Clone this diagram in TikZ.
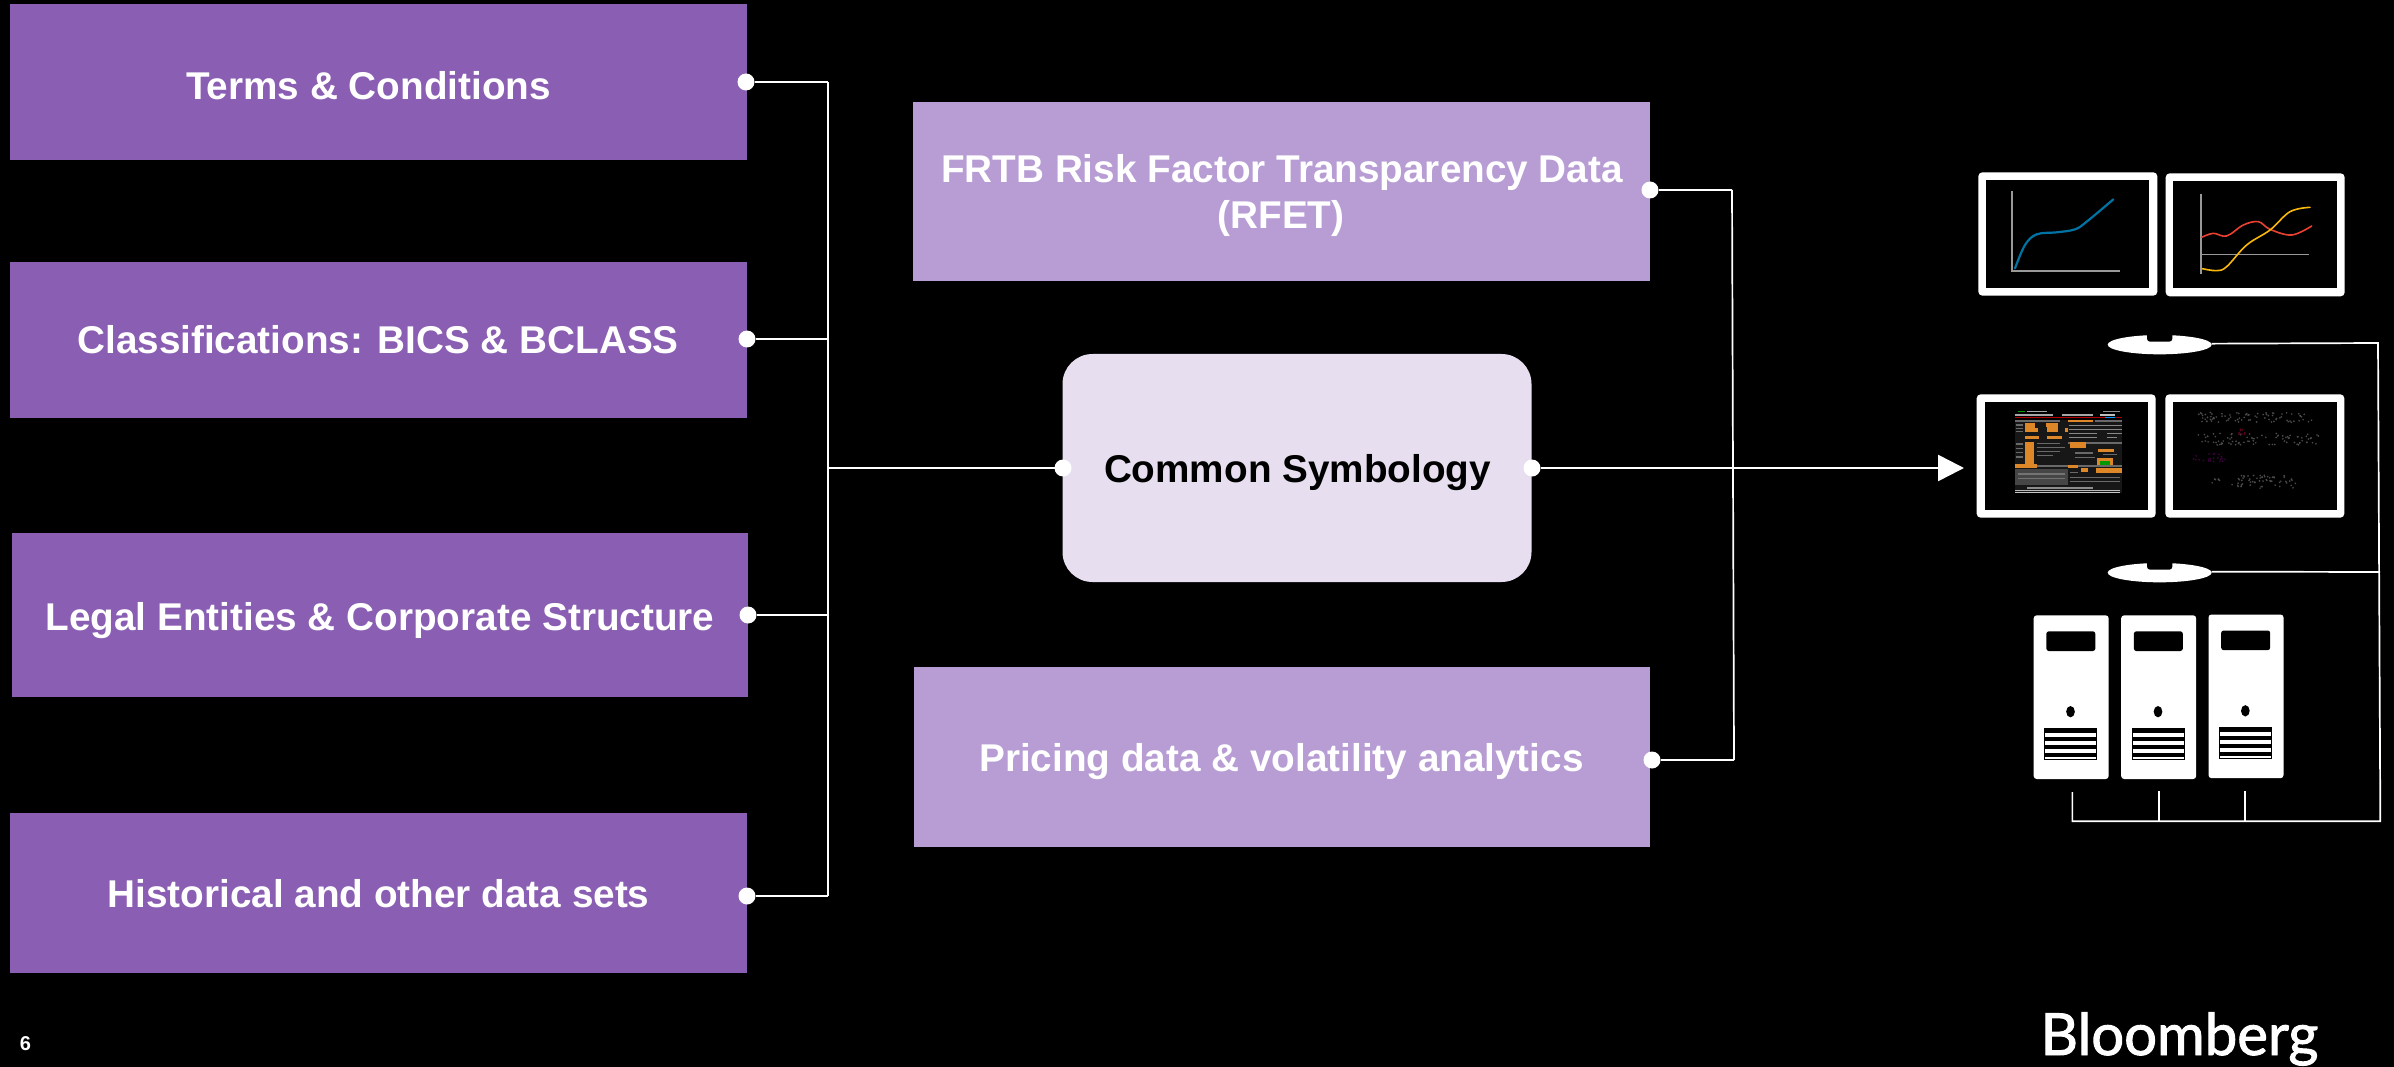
\documentclass[tikz,border=0pt]{standalone}
\usepackage{fontspec}
\setmainfont{Liberation Sans}
\newfontfamily\logofont[FakeBold=1.6]{Lato}
\usetikzlibrary{arrows.meta}
\definecolor{boxdark}{RGB}{138,94,178}
\definecolor{boxlight}{RGB}{183,157,212}
\definecolor{boxpale}{RGB}{231,222,240}
\definecolor{termorange}{RGB}{222,135,40}
\definecolor{termgray}{RGB}{105,105,105}
\definecolor{curveblue}{RGB}{0,115,165}
\definecolor{curvered}{RGB}{235,65,50}
\definecolor{curveyellow}{RGB}{250,185,10}
\tikzset{
  x=1pt,y=-1pt,
  databox/.style={rectangle,inner sep=0pt,outer sep=0pt,draw=none,fill=boxdark,minimum width=737pt,minimum height=156pt},
  feedbox/.style={rectangle,inner sep=0pt,outer sep=0pt,draw=none,fill=boxlight,minimum width=737pt},
  lbl/.style={anchor=base,inner sep=0pt,text=white,font=\fontsize{38.7}{47}\selectfont\bfseries},
  pin/.style={circle,fill=white,draw=none,inner sep=0pt,outer sep=0pt,minimum size=17pt},
  wire/.style={draw=white,line width=2.6pt},
  thinwire/.style={draw=white,line width=1.7pt},
  monitor/.style={fill=white,rounded corners=4pt},
  screen/.style={fill=black},
  axisline/.style={draw=gray!80,line width=1.2pt},
  chartcurve/.style={line width=1.6pt,smooth,line cap=round},
}
\begin{document}
\begin{tikzpicture}
\useasboundingbox (0,0) rectangle (2394,1067);
\fill[black] (0,0) rectangle (2394,1067);

% left data boxes
\node[databox] (terms) at (378.5,82) {};
\node[databox] (class) at (378.5,340) {};
\node[databox,minimum height=164pt,minimum width=736pt] (legal) at (380,615) {};
\node[databox,minimum height=160pt] (hist) at (378.5,893) {};
\node[lbl] (termst) at (368.5,100) {Terms \& Conditions};
\node[lbl] (classt) at (378,354) {Classifications: BICS \& BCLASS};
\node[lbl] (legalt) at (380,630) {Legal Entities \& Corporate Structure};
\node[lbl] (histt) at (378.5,907.5) {Historical and other data sets};

% middle boxes
\node[feedbox,minimum height=179pt] (rfet) at (1281.5,191.5) {};
\node[feedbox,minimum height=180pt,minimum width=736pt] (price) at (1282,757) {};
\node[lbl] (rfett) at (1282,183) {FRTB Risk Factor Transparency Data};
\node[lbl] (rfetb) at (1281,229) {(RFET)};
\node[lbl] (pricet) at (1281.5,771.5) {Pricing data \& volatility analytics};
\node[rectangle,draw=none,fill=boxpale,rounded corners=30pt,minimum width=469pt,minimum height=228pt,inner sep=0pt,outer sep=0pt] (common) at (1297,468) {};
\node[lbl,text=black] (commont) at (1297.5,482) {Common Symbology};

% bus coordinates
\coordinate (j1) at (828,82);
\coordinate (j2) at (828,339);
\coordinate (j3) at (829,615);
\coordinate (j4) at (828,896);
\coordinate (j5) at (828,468);
\coordinate (r1) at (1732,190);
\coordinate (r2) at (1734,760);
\coordinate (tip) at (1964,468);

% left connectors
\draw[thinwire] (j1) -- (j4);
\node[pin] (p1) at (746,82) {};
\node[pin] (p2) at (747,339) {};
\node[pin] (p3) at (748,615) {};
\node[pin] (p4) at (747,896) {};
\node[pin] (pl) at (1063,468) {};
\node[pin] (pr) at (1532,468) {};
\node[pin] (pf) at (1650,190) {};
\node[pin] (pp) at (1652,760) {};
\draw[wire] (p1) -- (j1);
\draw[wire] (p2) -- (j2);
\draw[wire] (p3) -- (j3);
\draw[wire] (p4) -- (j4);
\draw[wire] (j5) -- (pl);

% right connectors
\draw[thinwire] (r1) -- (r2);
\draw[wire] (pf) -- (r1);
\draw[wire] (pp) -- (r2);
\draw[wire,-{Triangle[length=26pt,width=26pt]}] (pr) -- (tip);

% chart monitors
\begin{scope}[shift={(1950,150)},x=0.33333pt,y=-0.33333pt]
  \fill[monitor] (85,67) rectangle (622,437);
  \fill[screen] (109,91) rectangle (598,413);
  \fill[monitor] (647,70) rectangle (1184,439);
  \fill[screen] (670,94) rectangle (1160,415);
  \draw[axisline] (186,122) -- (186,363) -- (510,363);
  \draw[axisline] (753,132) -- (753,372);
  \draw[axisline] (753,313) -- (1077,313);
  \draw[chartcurve,curveblue,line width=2.2pt] plot[smooth,tension=0.6] coordinates {(195,355) (225,285) (260,253) (320,247) (375,238) (410,215) (490,148)};
  \draw[chartcurve,curvered] plot[smooth,tension=0.6] coordinates {(755,262) (790,250) (830,258) (880,225) (925,215) (960,238) (1025,255) (1085,228)};
  \draw[chartcurve,curveyellow] plot[smooth,tension=0.6] coordinates {(757,356) (800,362) (830,350) (890,285) (960,240) (1020,185) (1080,172)};
  % stand
  \fill[white] (629,584) ellipse [x radius=156,y radius=29];
  \fill[black,rounded corners=3pt] (591,545) rectangle (667,575);
  \coordinate (s1) at (785,581);
\end{scope}

% lower monitors
\begin{scope}[shift={(1950,380)},x=0.33333pt,y=-0.33333pt]
  \fill[monitor] (80,43) rectangle (617,413);
  \fill[screen] (104,67) rectangle (594,390);
  \fill[monitor] (646,43) rectangle (1183,413);
  \fill[screen] (670,67) rectangle (1160,390);
  \fill[white] (629,578) ellipse [x radius=156,y radius=29];
  \fill[black,rounded corners=3pt] (591,540) rectangle (667,569);
  \coordinate (s2) at (785,575);
\end{scope}

% terminal screenshot
\begin{scope}[shift={(2010,405)},x=0.33333pt,y=-0.33333pt]
  \fill[gray!18!black] (15,45) rectangle (335,265);
  \fill[green!60!black] (25,17) rectangle (45,21);
  \fill[gray!70] (50,17) rectangle (110,21);
  \fill[gray!90] (280,17) rectangle (330,22);
  \fill[gray!70] (15,27) rectangle (130,33);
  \fill[gray!70] (155,27) rectangle (250,33);
  \fill[gray!50] (270,27) rectangle (315,33);
  \fill[red!70!black] (15,35) rectangle (335,40);
  \fill[blue!40!cyan] (285,35) rectangle (315,40);
  \fill[termgray] (15,45) rectangle (150,51);
  \fill[termorange] (175,45) rectangle (250,52);
  \fill[termgray] (255,45) rectangle (335,51);
  \fill[termorange] (45,53) rectangle (75,80);
  \fill[termorange] (60,70) rectangle (85,80);
  \fill[termorange] (108,53) rectangle (145,65);
  \fill[termorange] (110,65) rectangle (145,82);
  \fill[termorange] (165,70) rectangle (175,80);
  \fill[termgray] (18,58) rectangle (40,62);
  \fill[termgray] (18,68) rectangle (40,72);
  \fill[termgray] (18,78) rectangle (40,82);
  \fill[termgray!80] (178,60) rectangle (335,64);
  \fill[termgray!80] (178,72) rectangle (335,76);
  \fill[termgray!80] (178,84) rectangle (260,88);
  \fill[termgray!80] (290,84) rectangle (335,88);
  \fill[termgray!80] (178,96) rectangle (260,100);
  \fill[termgray!80] (290,96) rectangle (320,100);
  \fill[termorange] (45,92) rectangle (88,103);
  \fill[termorange] (110,92) rectangle (155,103);
  \fill[termorange] (45,110) rectangle (72,180);
  \fill[termgray] (18,115) rectangle (40,119);
  \fill[termgray] (18,128) rectangle (40,132);
  \fill[termgray] (18,141) rectangle (40,145);
  \fill[termgray] (18,154) rectangle (40,158);
  \fill[termgray] (80,114) rectangle (150,118);
  \fill[termgray] (80,126) rectangle (165,130);
  \fill[termgray] (80,138) rectangle (150,142);
  \fill[termgray] (80,150) rectangle (130,154);
  \fill[termgray] (175,110) rectangle (335,118);
  \fill[termorange] (180,110) rectangle (228,130);
  \fill[termorange] (265,132) rectangle (312,140);
  \fill[termgray] (195,142) rectangle (250,146);
  \fill[termgray] (280,146) rectangle (320,150);
  \fill[termgray] (195,155) rectangle (255,159);
  \fill[termorange] (262,160) rectangle (310,183);
  \fill[green!60!black] (270,167) rectangle (300,180);
  \fill[termgray] (15,180) rectangle (335,186);
  \fill[termorange] (15,178) rectangle (80,190);
  \fill[termorange] (175,180) rectangle (205,190);
  \fill[gray!55!black] (15,192) rectangle (175,240);
  \fill[gray!90!black] (25,205) rectangle (165,209);
  \fill[gray!90!black] (25,218) rectangle (165,222);
  \fill[termorange] (212,190) rectangle (235,200);
  \fill[termorange] (258,190) rectangle (335,205);
  \fill[termgray] (180,200) rectangle (205,204);
  \fill[termgray] (180,215) rectangle (330,219);
  \fill[termgray] (180,228) rectangle (330,232);
  \fill[gray!90] (50,245) rectangle (250,252);
  \fill[gray!55] (15,255) rectangle (330,259);
  \fill[gray!45] (15,262) rectangle (330,265);
\end{scope}

% faint screenshot
\begin{scope}[shift={(2180,405)},x=0.33333pt,y=-0.33333pt]
  \pgfmathsetseed{7}
  \foreach \i in {1,...,80}{
    \pgfmathsetmacro\a{55+345*rnd}\pgfmathsetmacro\b{22+30*rnd}
    \fill[gray!60!black] (\a,\b) circle [radius=2.8];}
  \foreach \i in {1,...,85}{
    \pgfmathsetmacro\a{55+365*rnd}\pgfmathsetmacro\b{85+35*rnd}
    \fill[gray!60!black] (\a,\b) circle [radius=2.8];}
  \foreach \i in {1,...,22}{
    \pgfmathsetmacro\a{35+125*rnd}\pgfmathsetmacro\b{145+25*rnd}
    \fill[violet!50!black] (\a,\b) circle [radius=2.8];}
  \foreach \i in {1,...,10}{
    \pgfmathsetmacro\a{175+20*rnd}\pgfmathsetmacro\b{70+20*rnd}
    \fill[purple!50!black] (\a,\b) circle [radius=2.8];}
  \foreach \i in {1,...,60}{
    \pgfmathsetmacro\a{155+200*rnd}\pgfmathsetmacro\b{210+40*rnd}
    \fill[gray!60!black] (\a,\b) circle [radius=2.8];}
  \foreach \i in {1,...,6}{
    \pgfmathsetmacro\a{95+25*rnd}\pgfmathsetmacro\b{220+15*rnd}
    \fill[gray!60!black] (\a,\b) circle [radius=2.8];}
\end{scope}

% server towers
\begin{scope}[shift={(1990,600)},x=0.33333pt,y=-0.33333pt]
  \foreach \dx/\dy in {0/0,262.5/0,524.5/-2.5}{
    \begin{scope}[shift={(\dx,\dy)}]
      \fill[white,rounded corners=3pt] (131,46) rectangle (356,537);
      \fill[black,rounded corners=2.5pt] (169,94) rectangle (316,153);
      \fill[black] (241.5,335) ellipse [x radius=13,y radius=17];
      \fill[black] (162,384) rectangle (321,479);
      \foreach \s in {399,423,447}{\fill[white] (165,\s) rectangle (318,\s+12);}
      \fill[white] (165,471) rectangle (318,476);
    \end{scope}
  }
  \coordinate (t1) at (247,576);
  \coordinate (t2) at (507,572);
  \coordinate (t3) at (765,572);
  \coordinate (b1) at (247,664);
  \coordinate (b2) at (507,664);
  \coordinate (b3) at (765,664);
  \coordinate (b4) at (1171,664);
  \coordinate (top1) at (1164,-771);
  \coordinate (s2e) at (1170,-84);
\end{scope}

% server connectors
\draw[thinwire,line join=miter] (s1) -- (top1) -- (b4) -- (b1) -- (t1);
\draw[thinwire] (b2) -- (t2);
\draw[thinwire] (b3) -- (t3);
\draw[thinwire] (s2) -- (s2e);

% footer
\node[lbl,font=\fontsize{20}{24}\selectfont\bfseries] (pageno) at (25.5,1050) {6};
\node[anchor=base,inner sep=0pt,text=white,font=\fontsize{58}{60}\logofont] (logo) at (2179.5,1055) {Bloomberg};
\end{tikzpicture}
\end{document}
